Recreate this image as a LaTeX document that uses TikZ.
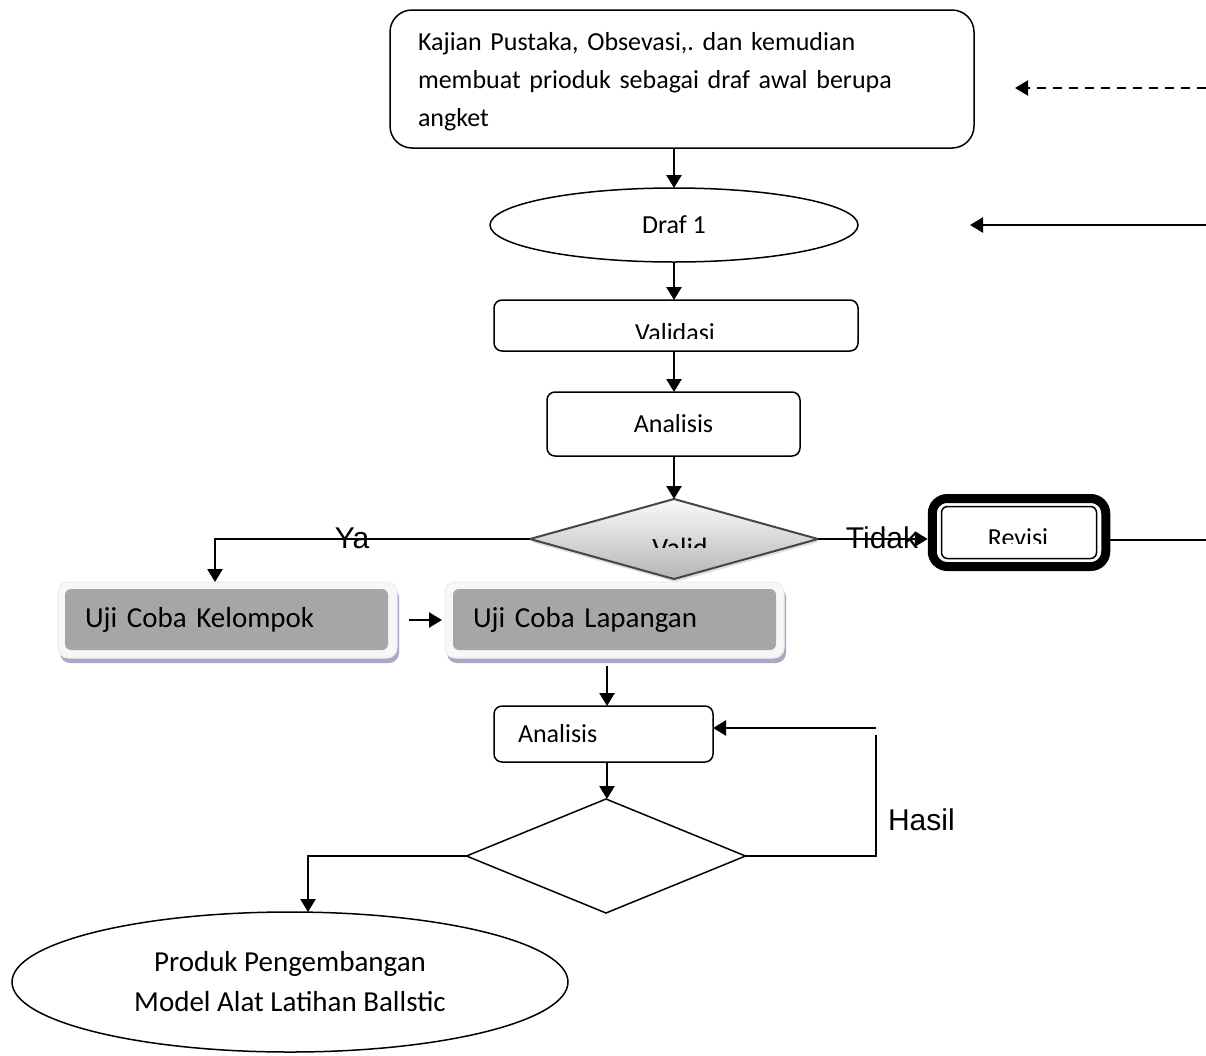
\documentclass[tikz,border=0pt]{standalone}
\usepackage{fontspec}
\setmainfont{Carlito}
\newfontfamily\arialf{Liberation Sans}
\usetikzlibrary{shapes.geometric,arrows.meta,shadows}
\frenchspacing
\begin{document}
\begin{tikzpicture}[x=1pt,y=-1pt,
  every node/.style={inner sep=0pt, outer sep=0pt},
  conn/.style={line width=2.5pt, -{Triangle[length=13pt,width=15pt]}},
  plain/.style={line width=2pt},
  txt/.style={font=\fontsize{26}{38}\selectfont},
  bigtxt/.style={font=\fontsize{29}{40}\selectfont},
  lbl/.style={font=\arialf\fontsize{30}{34}\selectfont},
  box/.style={draw, line width=1.5pt, rounded corners=8pt, txt},
  uframe/.style={draw=gray!15, fill=gray!6, line width=1pt, rounded corners=10pt,
    drop shadow={shadow xshift=2pt, shadow yshift=-5pt, fill=blue!20!gray!70, opacity=0.8}},
  ufill/.style={fill=gray!70, rounded corners=6pt, bigtxt, text width=283pt, align=left},
  dmd/.style={diamond, draw, line width=1.5pt, inner sep=0pt}
]
\useasboundingbox (0,0) rectangle (1206,1055);

% top box
\node[box, rounded corners=22pt, minimum width=584pt, minimum height=138pt] (kajian) at (682,79) {};
\node[txt, text width=528pt, align=left, anchor=north west] (kajiantxt) at (418,32.5)
  {Kajian Pustaka, Obsevasi,. dan kemudian\\membuat prioduk sebagai draf awal berupa\\angket};

% Draf 1
\node[draw, ellipse, line width=1.5pt, minimum width=368pt, minimum height=74pt, txt] (draf) at (674,225) {Draf 1};

% Validasi
\node[box, minimum width=364pt, minimum height=51pt] (val) at (676,325.5) {};
\begin{scope}
  \clip (494,300) rectangle (858,338);
  \node[txt, anchor=base] (valtxt) at (675,341) {Validasi};
\end{scope}

% Analisis 1
\node[box, minimum width=253pt, minimum height=64pt] (ana1) at (673.5,424) {Analisis};

% Valid diamond
\node[dmd, draw=gray!55!black, line width=2pt, minimum width=288pt, minimum height=80pt,
      top color=gray!4, bottom color=gray!58,
      drop shadow={shadow xshift=1pt, shadow yshift=-3pt, opacity=0.25}] (valid) at (674,539) {};
\begin{scope}
  \clip (600,520) rectangle (750,547);
  \node[font=\fontsize{28}{30}\selectfont, anchor=base] (validtxt) at (680,557) {Valid};
\end{scope}

% Revisi
\node[draw, line width=9pt, rounded corners=15pt, minimum width=173.5pt, minimum height=68pt] (rev) at (1019,532.5) {};
\node[draw, line width=1.5pt, rounded corners=6pt, minimum width=155pt, minimum height=52pt] (revin) at (1019,532.5) {};
\begin{scope}
  \clip (940,505) rectangle (1098,543);
  \node[txt, anchor=base] (revtxt) at (1018,546) {Revisi};
\end{scope}

% Uji Coba boxes
\node[uframe, minimum width=339pt, minimum height=76pt] (kelo) at (227.5,620) {};
\node[ufill, minimum width=323pt, minimum height=61pt] (kelotxt) at (226.5,619.5) {Uji Coba Kelompok};
\node[uframe, minimum width=339pt, minimum height=76pt] (lap) at (614.5,620) {};
\node[ufill, minimum width=323pt, minimum height=61pt] (laptxt) at (614.5,619.5) {Uji Coba Lapangan};

% Analisis 2
\node[box, minimum width=219pt, minimum height=56pt, text width=171pt, align=left] (ana2) at (603.5,734) {Analisis};

% second diamond
\node[dmd, minimum width=279pt, minimum height=114pt] (dia2) at (606,856) {};

% product ellipse
\node[draw, ellipse, line width=1.5pt, minimum width=556pt, minimum height=140pt,
      bigtxt, align=center] (produk) at (290,982)
  {Produk Pengembangan\\Model Alat Latihan Ballstic};

% labels
\node[lbl] (ya) at (352,538) {Ya};
\node[lbl] (tidak) at (882,538) {Tidak};
\node[lbl, anchor=base west] (hasil) at (888,830) {Hasil};

% coordinates
\coordinate (in1) at (1206,225);
\coordinate (in1e) at (970,225);
\coordinate (in2) at (1206,88);
\coordinate (in2e) at (1015,88);
\coordinate (out1) at (1206,540);
\coordinate (fb1) at (876,728);
\coordinate (fb2) at (876,735);

% connectors
\draw[conn] (draf.north |- kajian.south) -- (draf.north);
\draw[conn] (draf.south) -- (draf.south |- val.north);
\draw[conn] (draf.south |- val.south) -- (draf.south |- ana1.north);
\draw[conn] (valid.north |- ana1.south) -- (valid.north);
\draw[conn] (valid.west) -| ([xshift=-12.5pt]kelo.north);
\draw[conn] (valid.east) -- ([xshift=-4.5pt]rev.west |- valid.east);
\draw[plain] (rev.east |- out1) -- (out1);
\draw[conn] (in1) -- (in1e);
\draw[conn, dash pattern=on 9pt off 7pt] (in2) -- (in2e);
\draw[conn] ([xshift=12pt]kelo.east) -- ([xshift=-3pt]lap.west);
\draw[conn] ([xshift=3.5pt, yshift=-8pt]ana2.north |- lap.south) -- ([xshift=3.5pt]ana2.north);
\draw[conn] ([xshift=3.5pt]ana2.south) -- ([xshift=3.5pt]ana2.south |- dia2.north);
\draw[conn] (fb1) -- (ana2.east |- fb1);
\draw[plain] (dia2.east) -- (fb1 |- dia2.east) -- (fb2);
\draw[conn] (dia2.west) -| ([xshift=18pt]produk.north);
\end{tikzpicture}
\end{document}
